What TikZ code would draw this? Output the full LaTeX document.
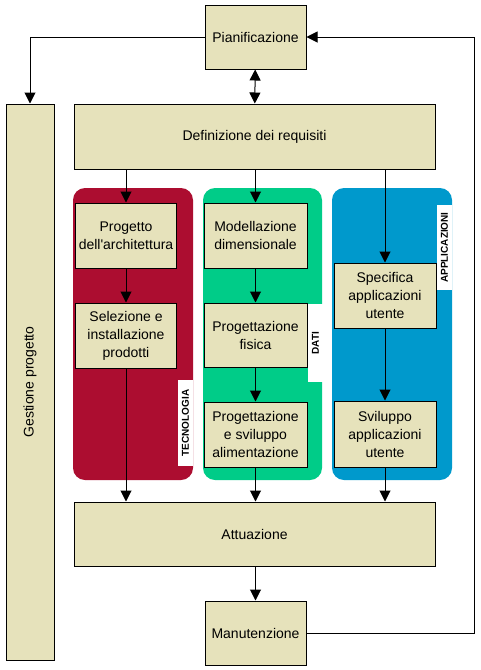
\documentclass[tikz,border=0pt]{standalone}
\usepackage{fontspec}
\setmainfont{Liberation Sans}
\usepackage{tikz}
\usetikzlibrary{arrows.meta}

\definecolor{fase}{RGB}{230,226,187}
\definecolor{tecno}{RGB}{172,13,48}
\definecolor{dati}{RGB}{0,204,136}
\definecolor{appl}{RGB}{0,153,204}

\begin{document}
\begin{tikzpicture}[x=1pt,y=-1pt,
	fasebox/.style={draw,line width=1pt,fill=fase,align=center,inner sep=0pt,
		minimum width=101pt,minimum height=64pt,font=\fontsize{14}{18}\selectfont},
	corsia/.style={rounded corners=12pt},
	etichetta/.style={fill=white,rotate=90,inner sep=0pt,minimum height=15pt,
		font=\fontsize{10}{12}\selectfont\bfseries},
	freccia/.style={->,line width=1pt,>={Triangle[length=11pt,width=11pt]}}
	]
		\useasboundingbox[fill=white] (0,0) rectangle (480,670);
		% corsie
		\fill[tecno,corsia] (73,188) rectangle (193,480);
		\fill[dati,corsia] (203,188) rectangle (322,480);
		\fill[appl,corsia] (332,188) rectangle (452,480);
		\node[etichetta,minimum width=86pt] (T) at (185.5,423) {TECNOLOGIA};
		\node[etichetta,minimum width=78pt] (D) at (315.5,343) {DATI};
		\node[etichetta,minimum width=85pt] (Ap) at (444.5,247.5) {APPLICAZIONI};
		%
		\node[fasebox] (P) at (255.5,37) {Pianificazione};
		\node[fasebox,minimum width=361pt,minimum height=65pt] (R) at (254.5,136.5) {Definizione dei requisiti};
		\node[fasebox,minimum width=48pt,minimum height=556pt] (G) at (30,382) {\rotatebox{90}{Gestione progetto}};
		\node[fasebox,minimum height=65pt] (A1) at (126,235.5) {Progetto\\dell\textquotesingle architettura};
		\node[fasebox,minimum height=65pt] (A2) at (126,335.5) {Selezione e\\installazione\\prodotti};
		\node[fasebox,minimum width=103pt,minimum height=65pt] (D1) at (255.5,235.5) {Modellazione\\dimensionale};
		\node[fasebox,minimum width=103pt] (D2) at (255.5,335) {Progettazione\\fisica};
		\node[fasebox,minimum width=103pt,minimum height=65pt] (D3) at (255.5,434.5) {Progettazione\\e sviluppo\\alimentazione};
		\node[fasebox,minimum width=102pt,minimum height=65pt] (S1) at (385,295.5) {Specifica\\applicazioni\\utente};
		\node[fasebox,minimum width=102pt,minimum height=66pt] (S2) at (385,434) {Sviluppo\\applicazioni\\utente};
		\node[fasebox,minimum width=361pt] (At) at (254.5,534) {Attuazione};
		\node[fasebox] (M) at (255.5,633) {Manutenzione};
		\coordinate (ritorno) at (474,633);
		%
		\path[freccia]
			(P) edge[<->] (R)
			(R.south -| A1) edge (A1)
			(R.south -| D1) edge (D1)
			(R.south -| S1) edge (S1)
			(A1) edge (A2)
			(D1) edge (D2)
			(D2) edge (D3)
			(S1) edge (S2)
			(A2) edge (At.north -| A2)
			(D3) edge (At.north -| D3)
			(S2) edge (At.north -| S2)
			(At.south -| M) edge (M);
		\draw[freccia] (P.west) -| (G.north);
		\draw[freccia] (M.east) -- (ritorno) |- (P.east);
	\end{tikzpicture}
\end{document}
